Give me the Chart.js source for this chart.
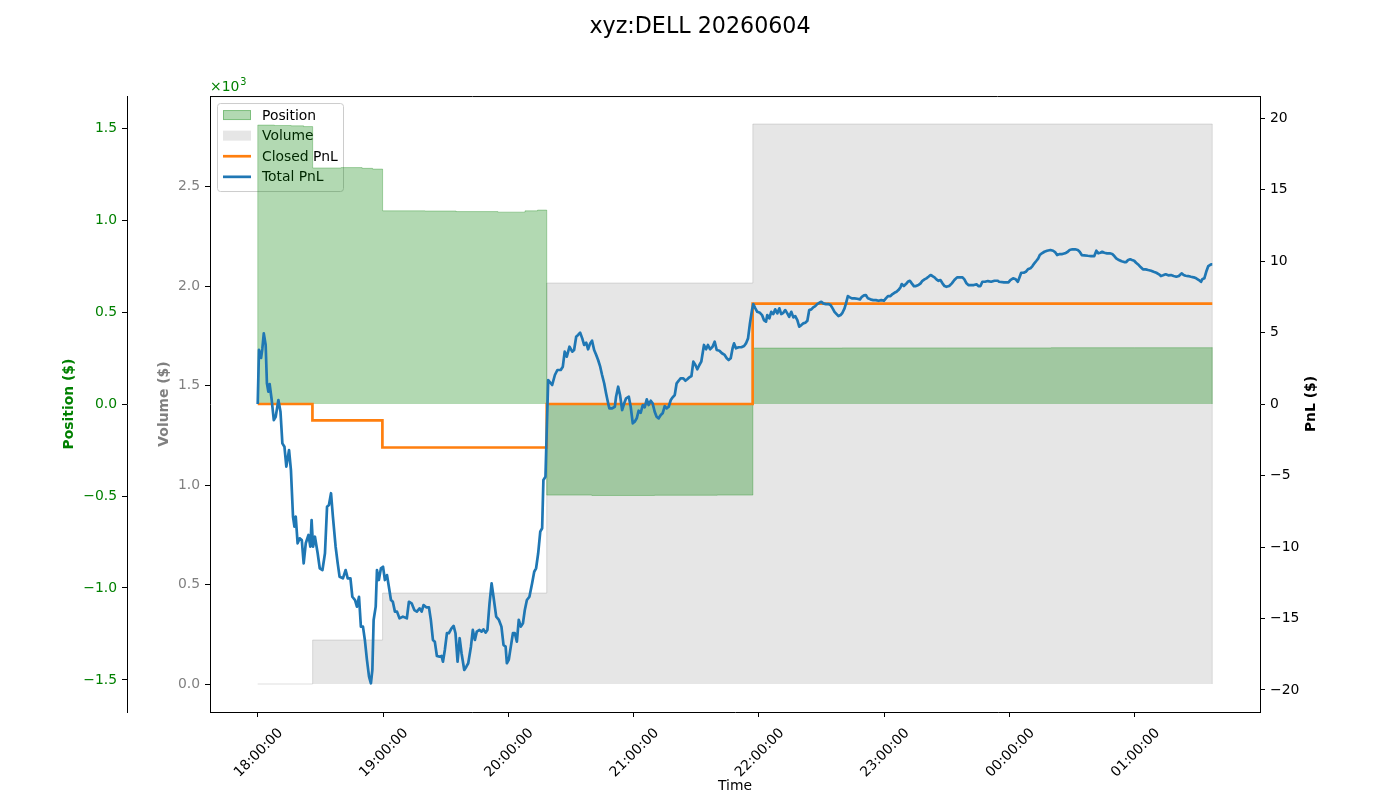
<!DOCTYPE html>
<html lang="en">
<head>
  <meta charset="UTF-8" />
  <title>xyz:DELL 20260604</title>
  <script src="https://cdn.jsdelivr.net/npm/chart.js"></script>
  <style>
    body { margin: 0; background: #ffffff; }
    #wrap { width: 1400px; height: 800px; }
  </style>
</head>
<body>
  <div id="wrap"><canvas id="pnlChart" width="1400" height="800"></canvas></div>

<script>
  // times are minutes after 18:00
  const pnlTime = [
    0,0.6,1.6,2.2,2.9,3.8,4.4,5.1,5.7,6.7,7.7,8.6,9.9,10.9,11.8,12.8,13.7,15.0,15.9,16.9,
    17.6,18.2,19.1,20.1,21.1,22.0,23.0,24.3,25.2,25.8,26.5,27.4,28.7,29.7,31.0,32.2,33.2,34.1,35.1,36.0,
    37.3,38.3,39.2,40.8,42.1,43.1,44.4,45.3,46.6,47.5,48.5,49.4,50.4,51.3,52.3,53.3,54.2,54.9,55.5,56.5,
    57.1,58.0,59.0,60.0,60.9,61.9,62.8,63.8,64.7,65.7,66.7,67.9,
    69.5,71.4,72.4,73.7,75.0,76.2,77.5,78.5,79.4,80.7,82.0,82.9,83.9,84.8,85.8,87.1,88.0,88.7,89.6,90.6,
    91.5,92.8,93.8,94.7,95.7,96.7,97.6,98.9,99.9,100.8,102.1,103.0,104.0,104.9,106.2,107.2,108.1,109.1,110.0,111.0,
    112.0,112.9,114.2,115.5,116.7,117.7,118.7,119.3,120.2,121.2,122.2,123.1,124.1,125.0,126.0,127.0,127.9,128.9,130.1,131.4,
    132.4,133.3,134.3,135.3,136.2,136.8,137.8,138.4,139.1,
    139.7,141.0,142.3,143.5,145.1,146.1,147.0,148.0,149.3,150.6,151.5,152.5,153.4,154.4,155.4,156.3,157.3,158.2,159.2,160.1,
    161.1,162.1,163.0,164.0,164.9,165.9,166.8,167.8,168.4,169.7,171.0,171.6,172.6,173.5,174.5,175.5,176.4,177.7,178.6,179.6,
    180.5,181.5,182.4,183.4,184.4,185.3,186.3,187.2,188.2,189.1,190.1,191.0,192.0,193.0,193.9,194.9,195.8,196.8,197.8,198.7,
    199.7,200.6,201.6,202.5,203.8,204.8,205.7,206.7,207.7,208.6,209.6,210.5,211.5,212.4,213.7,214.7,215.6,216.6,217.8,218.8,
    219.8,221.1,222.3,223.6,224.6,225.5,226.5,227.4,228.1,229.0,230.3,231.6,232.9,233.8,234.8,235.7,236.7,237.3,238.3,239.2,
    240.5,241.5,242.4,243.4,
    244.0,245.0,245.9,246.9,247.8,248.8,249.8,250.7,251.7,252.6,253.6,254.5,255.5,256.5,257.4,258.4,259.3,260.3,261.2,262.2,
    263.2,264.1,265.1,266.0,267.0,267.9,268.9,269.9,270.8,272.1,273.3,274.3,275.3,276.2,277.2,278.1,279.1,280.0,281.0,281.7,
    282.6,283.6,284.5,285.8,287.1,288.4,289.3,290.3,291.2,292.2,293.4,294.7,296.0,297.3,298.6,299.9,300.8,301.8,303.0,304.0,
    304.9,305.9,306.8,307.8,308.4,309.4,310.4,311.3,312.3,313.2,314.2,315.2,316.4,317.4,318.3,319.3,320.2,321.2,322.2,323.1,
    324.1,325.0,326.0,326.9,327.9,328.9,329.8,331.1,332.4,333.6,334.9,336.2,337.5,338.4,339.4,340.3,341.6,342.9,344.2,345.1,
    346.1,347.0,348.3,349.6,351.2,352.8,354.4,
    355.0,357.4,359.5,360.4,361.7,363.0,364.0,364.9,365.6,366.8,367.8,368.8,370.0,371.0,371.9,372.9,373.8,374.5,375.5,376.7,
    378.0,379.6,380.9,381.8,382.8,384.1,385.3,386.6,387.9,388.8,390.1,391.4,392.7,393.6,394.6,395.8,397.5,399.0,400.6,401.6,
    402.5,403.5,404.4,405.4,406.7,408.0,409.2,410.2,411.1,412.4,413.7,414.9,415.9,416.8,417.8,418.7,419.7,420.6,421.9,422.9,
    423.9,425.2,426.4,427.8,429.0,430.3,431.6,432.5,433.5,434.8,436.0,437.3,438.6,439.9,441.1,442.4,443.4,444.3,445.6,446.9,
    448.2,449.4,450.7,451.7,452.3,453.3,454.2,455.2,456.5,457.1
  ];
  const pnlValue = [
    0,3.78,3.22,3.85,4.94,4.13,1.45,0.86,1.40,0.28,-1.12,-0.89,0.28,-0.54,-2.75,-2.99,-4.38,-3.22,-4.62,-7.88,
    -8.58,-7.88,-9.74,-9.39,-9.51,-11.14,-9.74,-9.16,-9.98,-8.11,-9.98,-9.28,-10.44,-11.49,-11.61,-10.44,-7.18,-7.06,-6.24,-7.88,
    -9.98,-11.14,-12.08,-12.19,-11.61,-12.19,-12.19,-13.48,-13.71,-14.17,-13.48,-15.57,-15.57,-16.50,-17.90,-19.07,-19.53,-18.60,-15.10,-14.17,
    -11.61,-12.31,-11.49,-11.38,-12.31,-11.96,-12.78,-13.71,-13.83,-14.52,-14.52,-14.99,
    -14.87,-14.99,-13.83,-13.94,-14.41,-14.52,-14.29,-14.52,-14.06,-14.22,-14.22,-15.10,-16.50,-16.62,-17.62,-17.67,-17.62,-18.02,-17.20,-16.03,
    -16.03,-15.69,-15.52,-16.03,-18.02,-16.38,-17.43,-18.60,-18.37,-18.13,-16.97,-15.80,-16.50,-15.92,-15.80,-15.92,-15.76,-15.99,-15.80,-13.94,
    -12.54,-13.48,-14.87,-15.10,-15.57,-16.85,-16.97,-18.13,-17.90,-16.97,-16.03,-16.03,-16.62,-15.10,-15.57,-15.34,-14.41,-13.71,-13.48,-12.54,
    -11.73,-11.49,-10.44,-8.93,-8.69,-5.31,-5.08,-1.82,1.68,
    1.56,1.33,2.03,2.38,2.38,2.61,3.66,3.31,4.01,3.66,3.78,4.71,4.83,4.99,4.59,4.13,4.29,3.83,4.24,4.43,
    3.78,3.43,3.08,2.61,2.03,1.45,0.75,0.05,-0.30,-0.30,-0.19,0.51,1.21,0.63,-0.42,0.05,0.40,0.51,-0.19,-1.35,
    -1.24,-1.00,-0.47,-0.61,-0.07,-0.23,0.33,-0.07,0.23,0.05,-0.54,-0.89,-1.00,-0.77,-0.65,-0.14,-0.30,-0.19,0.28,0.47,
    0.63,1.45,1.63,1.80,1.80,1.63,1.73,1.87,1.96,2.96,2.73,2.43,2.73,2.96,4.13,3.83,4.13,3.83,4.01,4.36,
    3.78,3.73,3.55,3.43,3.20,3.08,3.20,3.90,4.24,3.90,3.97,3.97,4.06,4.24,4.59,5.64,6.57,6.99,6.69,6.45,
    6.38,6.22,5.87,5.76,
    6.22,5.99,6.45,6.29,6.62,6.34,6.69,6.29,6.38,6.57,6.34,6.10,6.45,6.06,6.15,5.87,5.41,5.52,5.64,5.69,
    5.83,6.57,6.62,6.76,6.85,6.99,7.08,7.15,7.04,6.99,6.99,6.92,6.69,6.45,6.29,6.15,6.22,6.38,6.69,7.04,
    7.55,7.46,7.39,7.39,7.36,7.32,7.50,7.60,7.62,7.39,7.32,7.27,7.27,7.22,7.27,7.22,7.39,7.55,7.55,7.69,
    7.78,7.85,7.97,8.16,8.39,8.25,8.39,8.55,8.62,8.44,8.25,8.25,8.32,8.44,8.62,8.72,8.79,8.90,9.02,8.95,
    8.86,8.72,8.62,8.67,8.44,8.25,8.20,8.25,8.44,8.67,8.86,8.86,8.86,8.72,8.44,8.32,8.32,8.32,8.37,8.25,
    8.25,8.55,8.55,8.60,8.55,8.62,8.62,
    8.55,8.51,8.51,8.67,8.79,8.72,8.55,8.90,9.18,9.18,9.25,9.42,9.49,9.65,9.84,10.02,10.19,10.42,10.54,10.65,
    10.72,10.77,10.72,10.63,10.42,10.49,10.49,10.54,10.65,10.77,10.82,10.82,10.77,10.65,10.42,10.40,10.37,10.35,10.35,10.72,
    10.54,10.58,10.65,10.58,10.54,10.54,10.49,10.35,10.19,10.07,9.98,9.93,9.93,10.07,10.12,10.07,10.02,9.88,9.72,9.56,
    9.42,9.42,9.37,9.32,9.25,9.18,9.07,8.95,9.00,9.07,9.00,9.02,8.95,8.90,8.95,9.14,9.02,8.97,8.95,8.90,
    8.86,8.79,8.67,8.55,8.72,8.79,9.25,9.65,9.77,9.77
  ];

  const closedTime  = [0, 26.2, 59.7, 138.4, 237.0, 457.1];
  const closedValue = [0, -1.15, -3.04, 0.0, 7.02, 7.02];

  // position in $, each value holds until the next time
  const posTime  = [0, 0, 8, 16, 22, 26.3, 40, 50, 55, 59.8, 80, 95, 115, 128, 134, 138.4, 160, 190, 220, 237.1, 280, 330, 380, 420, 457.1, 457.1];
  const posValue = [0, 1516, 1514, 1512, 1508, 1283, 1285, 1281, 1277, 1050, 1049, 1046, 1043, 1050, 1054, -495, -497, -496, -495, 304, 305, 305, 306, 306, 307, 0];

  // cumulative traded volume in $
  const volTime  = [0, 26.3, 59.8, 138.4, 237.1, 457.1, 457.1];
  const volValue = [0, 221, 457, 2015, 2814, 2814, 0];

  const timeTickMinutes = [0, 60, 120, 180, 240, 300, 360, 420];
  const timeTickLabels  = ['18:00:00', '19:00:00', '20:00:00', '21:00:00', '22:00:00', '23:00:00', '00:00:00', '01:00:00'];
  const pnlTicks = [-20, -15, -10, -5, 0, 5, 10, 15, 20];
  const posTicks = [-1500, -1000, -500, 0, 500, 1000, 1500];
  const volTicks = [0, 500, 1000, 1500, 2000, 2500];
  const legendLabels = ['Position', 'Volume', 'Closed PnL', 'Total PnL'];

  const FONT = 'DejaVu Sans';
  const GREEN = '#008000';
  const GRAY = '#808080';
  const LINE_W = 2.7;

  const tEnd = pnlTime[pnlTime.length - 1];
  const xMin = -0.05 * tEnd, xMax = tEnd * 1.05;
  const volMax = Math.max(...volValue);
  const posLim = 1674;
  const pnlLim = 21.54;

  const toPoints = (xs, ys) => xs.map((x, i) => ({ x: x, y: ys[i] }));
  const kFmt = v => {
    const s = (Math.abs(v) / 1000).toFixed(1);
    return v < 0 ? '\u2212' + s : s;
  };
  const setTicks = list => scale => { scale.ticks = list.map(v => ({ value: v })); };

  Chart.defaults.font.family = FONT;
  Chart.defaults.font.size = 13.9;
  Chart.defaults.color = '#000';

  // legend, the top spine, the x10^3 note and the right axis title
  const extrasPlugin = {
    id: 'extras',
    beforeDatasetsDraw(chart) {
      const ctx = chart.ctx, a = chart.chartArea;
      const x0 = a.left + 7, y0 = a.top + 7, w = 126, h = 88;
      ctx.save();
      ctx.beginPath();
      ctx.roundRect(x0 + 0.5, y0 + 0.5, w, h, 3);
      ctx.fillStyle = 'rgba(255,255,255,0.8)';
      ctx.fill();
      ctx.strokeStyle = '#cccccc';
      ctx.lineWidth = 1;
      ctx.stroke();
      ctx.font = '13.9px ' + FONT;
      ctx.textBaseline = 'middle';
      legendLabels.forEach((lab, i) => {
        const cy = y0 + 12 + i * 20.6;
        const px = x0 + 6;
        if (i === 0) {
          ctx.fillStyle = 'rgba(0,128,0,0.3)';
          ctx.fillRect(px, cy - 5, 28, 10);
          ctx.strokeStyle = 'rgba(0,128,0,0.3)';
          ctx.strokeRect(px + 0.5, cy - 4.5, 27, 9);
        } else if (i === 1) {
          ctx.fillStyle = 'rgba(128,128,128,0.2)';
          ctx.fillRect(px, cy - 5, 28, 10);
        } else {
          ctx.strokeStyle = i === 2 ? '#ff7f0e' : '#1f77b4';
          ctx.lineWidth = LINE_W;
          ctx.beginPath();
          ctx.moveTo(px, cy);
          ctx.lineTo(px + 28, cy);
          ctx.stroke();
          ctx.lineWidth = 1;
        }
        ctx.fillStyle = '#000';
        ctx.fillText(lab, x0 + 45, cy + 1);
      });
      ctx.restore();
    },
    afterDraw(chart) {
      const ctx = chart.ctx, a = chart.chartArea;
      ctx.save();
      ctx.strokeStyle = '#000';
      ctx.lineWidth = 1;
      ctx.beginPath();
      ctx.moveTo(a.left, a.top + 0.5);
      ctx.lineTo(a.right, a.top + 0.5);
      ctx.stroke();

      ctx.fillStyle = GREEN;
      ctx.textBaseline = 'alphabetic';
      ctx.font = '13.9px ' + FONT;
      ctx.fillText('\u00d710', a.left, a.top - 5);
      const w10 = ctx.measureText('\u00d710').width;
      ctx.font = '9.7px ' + FONT;
      ctx.fillText('3', a.left + w10 + 1, a.top - 11);

      ctx.fillStyle = '#000';
      ctx.font = 'bold 13.9px ' + FONT;
      ctx.textAlign = 'center';
      ctx.textBaseline = 'middle';
      ctx.translate(1311, (a.top + a.bottom) / 2);
      ctx.rotate(-Math.PI / 2);
      ctx.fillText('PnL ($)', 0, 0);
      ctx.restore();
    }
  };

  new Chart(document.getElementById('pnlChart'), {
    type: 'line',
    data: {
      datasets: [
        {
          label: 'Total PnL',
          data: toPoints(pnlTime, pnlValue),
          yAxisID: 'yPnl',
          borderColor: '#1f77b4',
          borderWidth: LINE_W,
          borderJoinStyle: 'round',
          pointRadius: 0,
          tension: 0,
          fill: false
        },
        {
          label: 'Closed PnL',
          data: toPoints(closedTime, closedValue),
          yAxisID: 'yPnl',
          borderColor: '#ff7f0e',
          borderWidth: LINE_W,
          stepped: true,
          pointRadius: 0,
          fill: false
        },
        {
          label: 'Position',
          data: toPoints(posTime, posValue),
          yAxisID: 'yPos',
          borderColor: 'rgba(0,128,0,0.3)',
          backgroundColor: 'rgba(0,128,0,0.3)',
          borderWidth: 1,
          stepped: true,
          pointRadius: 0,
          fill: 'origin'
        },
        {
          label: 'Volume',
          data: toPoints(volTime, volValue),
          yAxisID: 'yVol',
          borderColor: 'rgba(128,128,128,0.25)',
          backgroundColor: 'rgba(128,128,128,0.2)',
          borderWidth: 1,
          stepped: true,
          pointRadius: 0,
          fill: 'origin'
        }
      ]
    },
    options: {
      responsive: false,
      animation: false,
      events: [],
      devicePixelRatio: 1,
      layout: { padding: 0, autoPadding: false },
      plugins: {
        legend: { display: false },
        tooltip: { enabled: false },
        title: {
          display: true,
          text: 'xyz:DELL 20260604',
          color: '#000',
          font: { size: 22.2, weight: 'normal' },
          padding: { top: 13.7, bottom: 55.7 }
        }
      },
      scales: {
        x: {
          type: 'linear',
          position: 'bottom',
          min: xMin,
          max: xMax,
          afterBuildTicks: setTicks(timeTickMinutes),
          afterFit: s => { s.height = 88; },
          ticks: {
            autoSkip: false,
            minRotation: 45,
            maxRotation: 45,
            labelOffset: 23,
            padding: 8,
            color: '#000',
            callback: v => timeTickLabels[timeTickMinutes.indexOf(v)]
          },
          grid: { drawOnChartArea: false, drawTicks: true, tickLength: 5, color: '#000' },
          border: { display: true, color: '#000', width: 1 },
          title: { display: true, text: 'Time', color: '#000', padding: { top: 0, bottom: 5 } }
        },
        yPos: {
          type: 'linear',
          position: 'left',
          weight: 2,
          min: -posLim,
          max: posLim,
          afterBuildTicks: setTicks(posTicks),
          afterFit: s => { s.width = 127; },
          ticks: { color: GREEN, padding: 5, callback: kFmt },
          grid: { drawOnChartArea: false, tickLength: 5, color: '#000' },
          border: { display: true, color: '#000', width: 1 },
          title: {
            display: true, text: 'Position ($)', color: GREEN,
            font: { weight: 'bold' }, padding: { top: 60.7, bottom: 0 }
          }
        },
        yVol: {
          type: 'linear',
          position: 'left',
          weight: 1,
          min: -0.05 * volMax,
          max: volMax * 1.05,
          afterBuildTicks: setTicks(volTicks),
          afterFit: s => { s.width = 83; },
          ticks: { color: GRAY, padding: 5, callback: kFmt },
          grid: { drawOnChartArea: false, tickLength: 5, color: '#000' },
          border: { display: true, color: '#000', width: 1 },
          title: {
            display: true, text: 'Volume ($)', color: GRAY,
            font: { weight: 'bold' }, padding: { top: 28.7, bottom: 0 }
          }
        },
        yPnl: {
          type: 'linear',
          position: 'right',
          min: -pnlLim,
          max: pnlLim,
          afterBuildTicks: setTicks(pnlTicks),
          afterFit: s => { s.width = 140; },
          ticks: { color: '#000', padding: 5, callback: v => (v < 0 ? '\u2212' + Math.abs(v) : String(v)) },
          grid: { drawOnChartArea: false, tickLength: 5, color: '#000' },
          border: { display: true, color: '#000', width: 1 }
        }
      }
    },
    plugins: [extrasPlugin]
  });
</script>
</body>
</html>
